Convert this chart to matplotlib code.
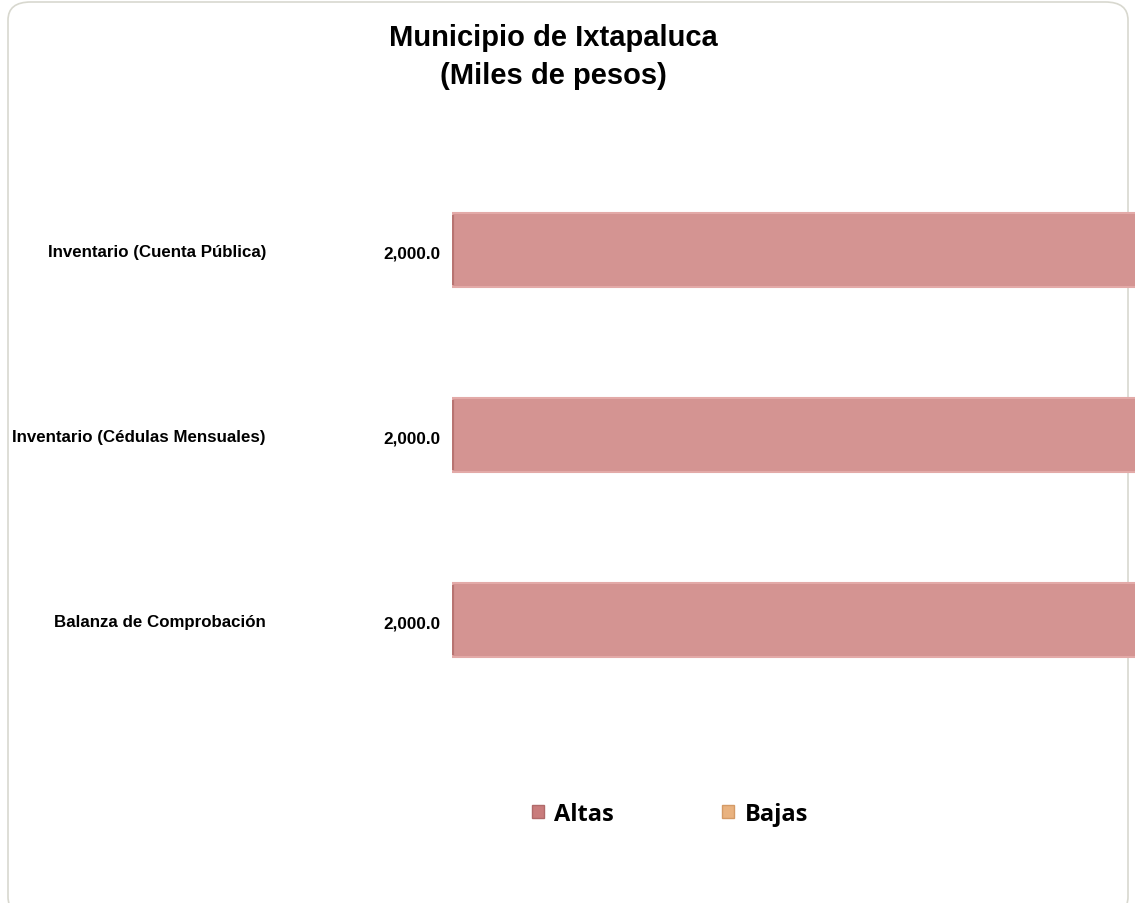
import numpy as np
import matplotlib.pyplot as plt
from matplotlib.patches import FancyBboxPatch, Patch

# datos
categorias = ["Balanza de Comprobación",
              "Inventario (Cédulas Mensuales)",
              "Inventario (Cuenta Pública)"]
altas = [2000.0, 2000.0, 2000.0]
bajas = [0.0, 0.0, 0.0]
titulo = "Municipio de Ixtapaluca\n(Miles de pesos)"

c_altas = "#d49492"
c_altas_leg = "#c97c7c"
c_bajas = "#e9b27f"

plt.rcParams['font.family'] = ['Liberation Sans', 'DejaVu Sans']

fig = plt.figure(figsize=(11.35, 9.04), dpi=100)

# marco redondeado (detras de los ejes), el borde inferior queda fuera
marco = FancyBboxPatch((8 / 1135, -12 / 904), (1128 - 8) / 1135, 913 / 904,
                       boxstyle="round,pad=0,rounding_size=0.02",
                       transform=fig.transFigure, facecolor="none",
                       edgecolor="#d8d8cf", linewidth=1.2, zorder=-1)
fig.patches.append(marco)

ax = fig.add_axes([452 / 1135, 0.2107, 1 - 452 / 1135, 0.614])
y = np.arange(len(categorias))
ax.barh(y, altas, height=0.4, color=c_altas, edgecolor="#e3aaa8", linewidth=1.5)
ax.barh(y, bajas, left=altas, height=0.4, color=c_bajas, linewidth=0)

# borde izquierdo mas oscuro
for yi in y:
    ax.plot([0, 0], [yi - 0.19, yi + 0.19], color="#b87472", lw=3, solid_capstyle="butt")

for yi, v in zip(y, altas):
    ax.annotate(f"{v:,.1f}", xy=(0, yi), xytext=(-8, -2), textcoords="offset points",
                ha="right", va="center", fontsize=12.3, fontweight="bold")

ax.set_xlim(0, 1600)
ax.set_ylim(-0.5, len(categorias) - 0.5)
ax.set_yticks(y)
ax.set_yticklabels(categorias, fontsize=12.2, fontweight="bold")
ax.tick_params(axis="y", length=0, pad=134)
ax.set_xticks([])
for s in ax.spines.values():
    s.set_visible(False)
ax.patch.set_alpha(0)

fig.text(553 / 1135, 1 - 57 / 904, titulo, ha="center", va="center",
         fontsize=21, fontweight="bold", linespacing=1.5)

handles = [Patch(facecolor=c_altas_leg, edgecolor="#b06a6a"),
           Patch(facecolor=c_bajas, edgecolor="#d49a66")]
fig.legend(handles, ["Altas", "Bajas"], loc="center", bbox_to_anchor=(670 / 1135, 1 - 815 / 904),
           ncol=2, frameon=False, handlelength=0.5, handleheight=0.5, handletextpad=0.45,
           columnspacing=4.6, prop={"family": "Open Sans", "weight": "bold", "size": 17})

fig.savefig("out.png", dpi=100)
